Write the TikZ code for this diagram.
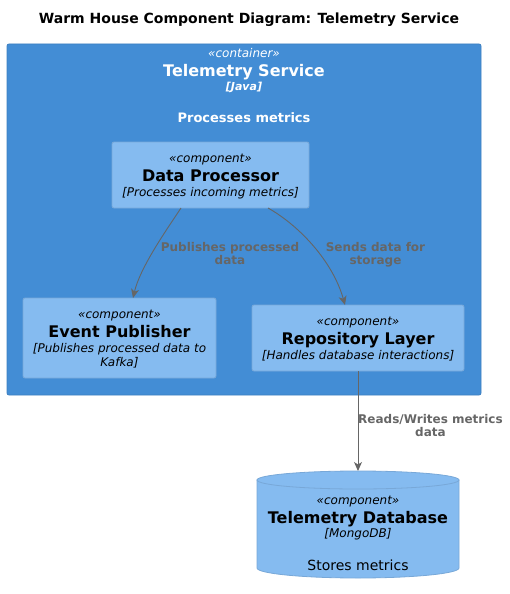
\documentclass[tikz,border=0pt]{standalone}
\usepackage{fontspec}
\setmainfont{DejaVu Sans}
\usetikzlibrary{arrows.meta}
\definecolor{contfill}{HTML}{438DD5}
\definecolor{contline}{HTML}{3C7FC0}
\definecolor{compfill}{HTML}{85BBF0}
\definecolor{compline}{HTML}{78A8D8}
\definecolor{arrowgray}{HTML}{666666}
\tikzset{
  container/.style={draw=contline, fill=contfill, rounded corners=2pt, line width=0.8pt, inner sep=0pt},
  compbox/.style={draw=compline, fill=compfill, rounded corners=2pt, line width=0.8pt, inner sep=0pt},
  txt/.style={inner sep=0pt, anchor=base},
  stereo/.style={txt, font=\fontsize{12}{14}\selectfont\itshape},
  cname/.style={txt, font=\fontsize{16}{18}\selectfont\bfseries},
  cdesc/.style={txt, font=\fontsize{12}{14}\selectfont\itshape},
  rel/.style={draw=arrowgray, line width=0.9pt, -{Stealth[length=9pt,width=8pt,inset=2.5pt]}},
  rellabel/.style={txt, align=center, text=arrowgray, font=\fontsize{12}{13}\selectfont\bfseries},
}
\begin{document}
\begin{tikzpicture}[x=1pt,y=-1pt]
\useasboundingbox (0,0) rectangle (510,594);
\node[txt, font=\fontsize{14}{16}\selectfont\bfseries] (title) at (249,23.5) {Warm House Component Diagram: Telemetry Service};

% container
\node[container, minimum width=474pt, minimum height=351pt] (cont) at (244,219.5) {};
\node[stereo, text=white] (contst) at (244,57) {«container»};
\node[cname, text=white] (contname) at (244,76) {Telemetry Service};
\node[txt, text=white, font=\fontsize{11}{13}\selectfont\bfseries\itshape] (conttech) at (244,90) {[Java]};
\node[txt, text=white, font=\fontsize{13}{15}\selectfont\bfseries] (contdesc) at (244,122) {Processes metrics};

% Data Processor
\node[compbox, minimum width=197pt, minimum height=66pt] (dp) at (210.5,175) {};
\node[stereo] (dpst) at (210.5,162.5) {«component»};
\node[cname] (dpname) at (210.5,181) {Data Processor};
\node[cdesc] (dpdesc) at (210.5,196) {[Processes incoming metrics]};

% Event Publisher
\node[compbox, minimum width=193pt, minimum height=80pt] (ep) at (119.5,338) {};
\node[stereo] (epst) at (119.5,318) {«component»};
\node[cname] (epname) at (119.5,337) {Event Publisher};
\node[cdesc] (epdesc1) at (119.5,352) {[Publishes processed data to};
\node[cdesc] (epdesc2) at (119.5,366) {Kafka]};

% Repository Layer
\node[compbox, minimum width=212pt, minimum height=66pt] (rl) at (358,338) {};
\node[stereo] (rlst) at (358,325.5) {«component»};
\node[cname] (rlname) at (358,344) {Repository Layer};
\node[cdesc] (rldesc) at (358,359) {[Handles database interactions]};

% Database cylinder
\draw[draw=compline, fill=compfill, line width=0.8pt]
  (257,480) -- (257,568) arc[start angle=180, end angle=0, x radius=101, y radius=10]
  -- (459,480) -- cycle;
\draw[draw=compline, fill=compfill, line width=0.8pt]
  (358,480) ellipse[x radius=101, y radius=9];
\coordinate (dbtop) at (358,471);
\node[stereo] (dbst) at (358,504) {«component»};
\node[cname] (dbname) at (358,523) {Telemetry Database};
\node[cdesc] (dbtech) at (358,537.5) {[MongoDB]};
\node[txt, font=\fontsize{14}{16}\selectfont] (dbdesc) at (358,570) {Stores metrics};

% relations
\coordinate (dpA) at (181,208);
\coordinate (dpB) at (268,208);
\coordinate (epT) at (133,298);
\coordinate (rlT) at (345,305);
\coordinate (rlB) at (358,371);
\draw[rel] (dpA) .. controls (165,232) and (140,268) .. (epT);
\draw[rel] (dpB) .. controls (300,226) and (333,262) .. (rlT);
\draw[rel] (rlB) -- (dbtop);
\node[rellabel] (l1) at (230,264) {Publishes processed\\data};
\node[rellabel] (l2) at (375.5,264) {Sends data for\\storage};
\node[rellabel] (l3) at (430.5,436) {Reads/Writes metrics\\data};
\end{tikzpicture}
\end{document}
